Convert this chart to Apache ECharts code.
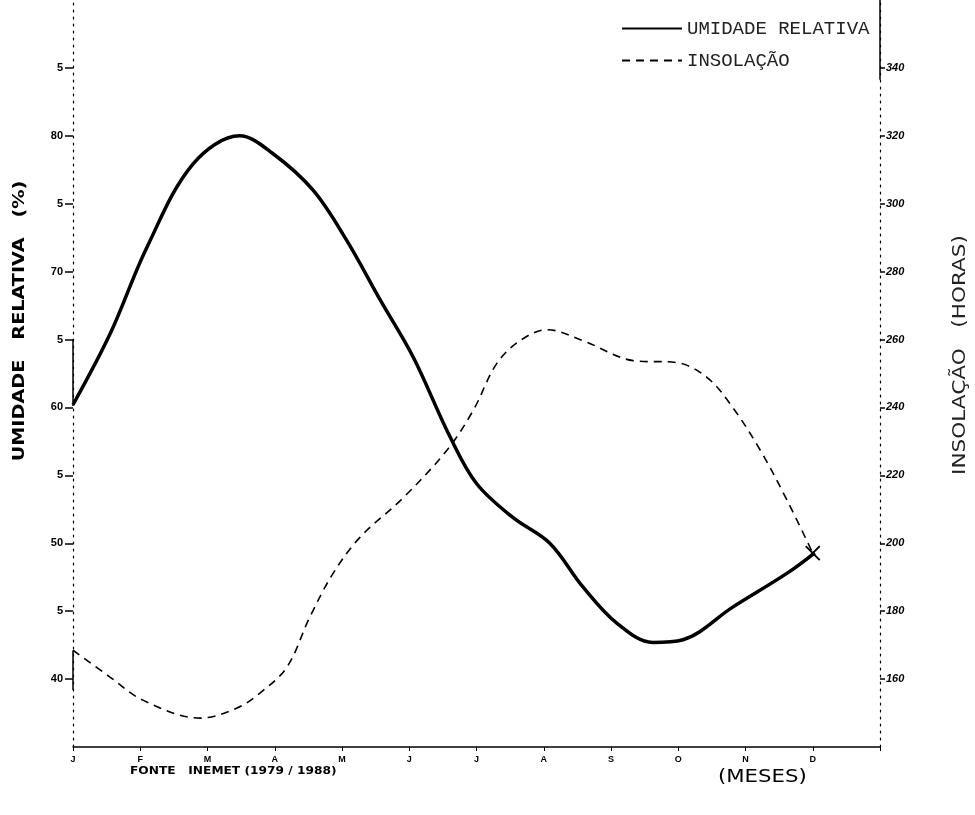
<!DOCTYPE html>
<html>
<head>
<meta charset="utf-8">
<script src="https://cdn.jsdelivr.net/npm/echarts@6/dist/echarts.min.js"></script>
<style>html,body{margin:0;padding:0;background:#fff;}#c{width:975px;height:815px;}</style>
</head>
<body>
<div id="c"></div>
<script>
// Month labels
var months = ['J','F','M','A','M','J','J','A','S','O','N','D'];
// Umidade relativa (%) — month position (0=Jan) and value
var umidMonth = [0, 0.55, 1.10, 1.78, 2.48, 2.97, 3.57, 4.07, 4.57, 5.06, 5.61, 6.0, 6.54, 7.09, 7.58, 8.09, 8.62, 9.07, 9.81, 10.62, 11.03];
var umidValue = [60.2, 65.4, 71.8, 77.9, 80.0, 78.7, 76.0, 72.3, 67.9, 63.7, 57.8, 54.4, 51.9, 50.0, 46.8, 44.1, 42.7, 42.9, 45.3, 47.8, 49.3];
// Insolação (horas)
var insolMonth = [0, 0.55, 1.04, 1.89, 2.44, 2.78, 3.18, 3.52, 3.87, 4.27, 4.90, 5.56, 5.95, 6.30, 6.65, 7.05, 7.58, 8.33, 8.98, 9.43, 9.81, 10.22, 10.62, 11.0];
var insolValue = [168.5, 160.6, 153.8, 148.5, 151.5, 155.9, 163.5, 178.2, 191.2, 201.8, 213.2, 227.4, 239.1, 252.9, 259.7, 262.9, 259.7, 253.8, 253.2, 248.8, 240.0, 227.4, 212.6, 197.1];

function pairs(xs, ys) { return xs.map(function (x, i) { return [x, ys[i]]; }); }

var chart = echarts.init(document.getElementById('c'));
var insolData = pairs(insolMonth, insolValue);
var last = insolData.length - 1;
insolData[last] = {
  value: insolData[last],
  symbol: 'path://M0,0L10,10M10,0L0,10',
  symbolSize: 14,
  itemStyle: { color: 'none', borderColor: '#000', borderWidth: 2 }
};

chart.setOption({
  animation: false,
  backgroundColor: '#fff',
  grid: { left: 73, right: 95, top: 0, bottom: 68 },
  legend: {
    orient: 'vertical',
    left: 616,
    top: 14,
    itemWidth: 60,
    itemHeight: 14,
    itemGap: 13,
    itemStyle: { opacity: 0 },
    textStyle: { fontFamily: 'Liberation Mono', fontSize: 19, color: '#222' },
    data: ['UMIDADE RELATIVA', 'INSOLAÇÃO']
  },
  xAxis: {
    type: 'value', min: 0, max: 12, interval: 1,
    axisLine: { lineStyle: { color: '#000', width: 1.5 } },
    axisTick: { length: 4, lineStyle: { color: '#000' } },
    splitLine: { show: false },
    axisLabel: {
      margin: 8,
      fontFamily: 'Liberation Sans', fontWeight: 'bold', fontSize: 9, color: '#000',
      formatter: function (v) { return months[v] || ''; }
    }
  },
  yAxis: [
    {
      type: 'value', min: 35, max: 90, interval: 5, position: 'left',
      axisLine: { show: true, lineStyle: { color: '#000', width: 1.2, type: [2, 5] } },
      axisTick: { show: true, length: 8, lineStyle: { color: '#000', width: 1.5 } },
      splitLine: { show: false },
      axisLabel: {
        showMinLabel: false, showMaxLabel: false, margin: 10,
        fontFamily: 'Liberation Sans', fontWeight: 'bold', fontSize: 11, color: '#000',
        formatter: function (v) { return v % 10 === 0 ? String(v) : '5'; }
      }
    },
    {
      type: 'value', min: 140, max: 360, interval: 20, position: 'right',
      axisLine: { show: true, lineStyle: { color: '#000', width: 1.2, type: [2, 5] } },
      axisTick: { show: true, length: 5, lineStyle: { color: '#000', width: 1.5 } },
      splitLine: { show: false },
      axisLabel: {
        showMinLabel: false, showMaxLabel: false, margin: 6,
        fontFamily: 'Liberation Sans', fontWeight: 'bold', fontStyle: 'italic', fontSize: 11, color: '#000'
      }
    }
  ],
  series: [
    {
      name: 'UMIDADE RELATIVA', type: 'line', yAxisIndex: 0,
      data: pairs(umidMonth, umidValue),
      smooth: 0.35, symbol: 'none',
      lineStyle: { color: '#000', width: 3.5 },
      itemStyle: { color: '#000' },
      markLine: {
        silent: true, symbol: 'none', label: { show: false },
        lineStyle: { color: '#000', width: 1.5, type: 'solid' },
        data: [
          [{ coord: [0, 65] }, { coord: [0, 60.1] }],
          [{ coord: [0, 42.1] }, { coord: [0, 39.2] }]
        ]
      }
    },
    {
      name: 'INSOLAÇÃO', type: 'line', yAxisIndex: 1,
      data: insolData,
      smooth: 0.35, symbol: 'none',
      lineStyle: { color: '#000', width: 1.6, type: [8, 6] },
      itemStyle: { color: '#000' },
      markLine: {
        silent: true, symbol: 'none', label: { show: false },
        lineStyle: { color: '#000', width: 1.5, type: 'solid' },
        data: [
          [{ coord: [12, 360] }, { coord: [12, 336.5] }]
        ]
      }
    }
  ],
  graphic: [
    {
      type: 'text', x: 20, y: 321, rotation: Math.PI / 2, scaleX: 1.2,
      style: {
        text: 'UMIDADE   RELATIVA   (%)', fill: '#000',
        font: 'bold 16px "DejaVu Sans"', align: 'center', verticalAlign: 'middle'
      }
    },
    {
      type: 'text', x: 961, y: 355, rotation: Math.PI / 2, scaleX: 1.27,
      style: {
        text: 'INSOLAÇÃO   (HORAS)', fill: '#222',
        font: '17px "DejaVu Sans"', align: 'center', verticalAlign: 'middle'
      }
    },
    {
      type: 'text', x: 130, y: 771, scaleX: 1.22,
      style: {
        text: 'FONTE   INEMET (1979 / 1988)', fill: '#000',
        font: 'bold 10px "DejaVu Sans"', verticalAlign: 'middle'
      }
    },
    {
      type: 'text', x: 718, y: 778, scaleX: 1.25,
      style: {
        text: '(MESES)', fill: '#000',
        font: '17px "DejaVu Sans"', verticalAlign: 'middle'
      }
    }
  ]
});
</script>
</body>
</html>
